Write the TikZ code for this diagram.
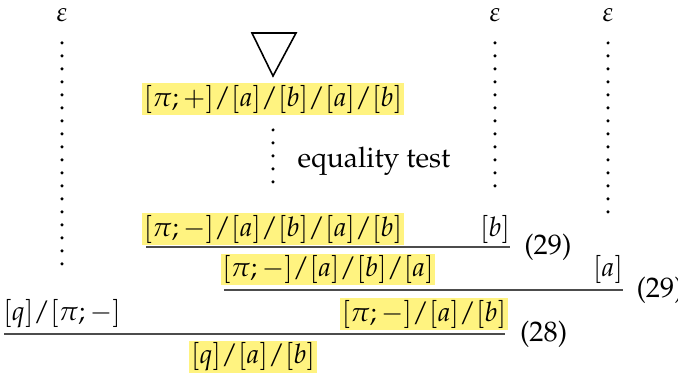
\documentclass[tikz,border=0pt]{standalone}
\usepackage[T1]{fontenc}
\usepackage{mathpazo}

\definecolor{hlyellow}{RGB}{255,243,128}
\newcommand{\slh}{\mathord{/}}

\tikzset{
    seq/.style={inner sep=0.6pt, font=\fontsize{10.2}{12}\selectfont},
    hl/.style={seq, fill=hlyellow},
    lbl/.style={inner sep=0pt, font=\fontsize{10.7}{13}\selectfont},
    rule/.style={line width=0.6pt, draw=black!70},
    dotcol/.style={line width=1.3pt, line cap=round, dash pattern=on 0pt off 0.1729cm},
}

\begin{document}
\begin{tikzpicture}[x=0.0133cm, y=-0.0133cm]
    \useasboundingbox (0,0) rectangle (678,376);
    % leaves
    \node[seq] (eps1) at (62,15) {$\varepsilon$};
    \node[seq] (eps2) at (495,15) {$\varepsilon$};
    \node[seq] (eps3) at (608,15) {$\varepsilon$};
    \draw[line width=0.6pt] (252,33) -- (296,33) -- (273,76) -- cycle;
    \node[hl] (top) at (273,99) {$[\pi;+]\slh[a]\slh[b]\slh[a]\slh[b]$};
    % premises and conclusions
    \node[hl] (num1) at (273,229) {$[\pi;-]\slh[a]\slh[b]\slh[a]\slh[b]$};
    \node[seq] (b1) at (495,229) {$[b]$};
    \node[hl] (num2) at (328,269.5) {$[\pi;-]\slh[a]\slh[b]\slh[a]$};
    \node[seq] (a2) at (608,269.5) {$[a]$};
    \node[seq] (q1) at (62,314) {$[q]\slh[\pi;-]$};
    \node[hl] (num3) at (424,314) {$[\pi;-]\slh[a]\slh[b]$};
    \node[hl] (den) at (253,357) {$[q]\slh[a]\slh[b]$};
    % dotted derivations
    \draw[dotcol, shorten <=0.372cm, shorten >=0.661cm] (eps1.center) -- (q1.center);
    \draw[dotcol, shorten <=0.372cm, shorten >=0.568cm] (eps2.center) -- (b1.center);
    \draw[dotcol, shorten <=0.372cm, shorten >=0.595cm] (eps3.center) -- (a2.center);
    \draw[dotcol, shorten <=0.412cm, shorten >=0.621cm] (top.center) -- (num1.center);
    \node[lbl, anchor=west] (eqtest) at (297,161) {equality test};
    % rules
    \draw[rule] (146,247) -- (510,247) node[lbl, anchor=west, xshift=0.18cm] (r1) {(29)};
    \draw[rule] (224,290) -- (623,290) node[lbl, anchor=west, xshift=0.17cm] (r2) {(29)};
    \draw[rule] (4,334) -- (505,334) node[lbl, anchor=west, xshift=0.19cm] (r3) {(28)};
\end{tikzpicture}
\end{document}
